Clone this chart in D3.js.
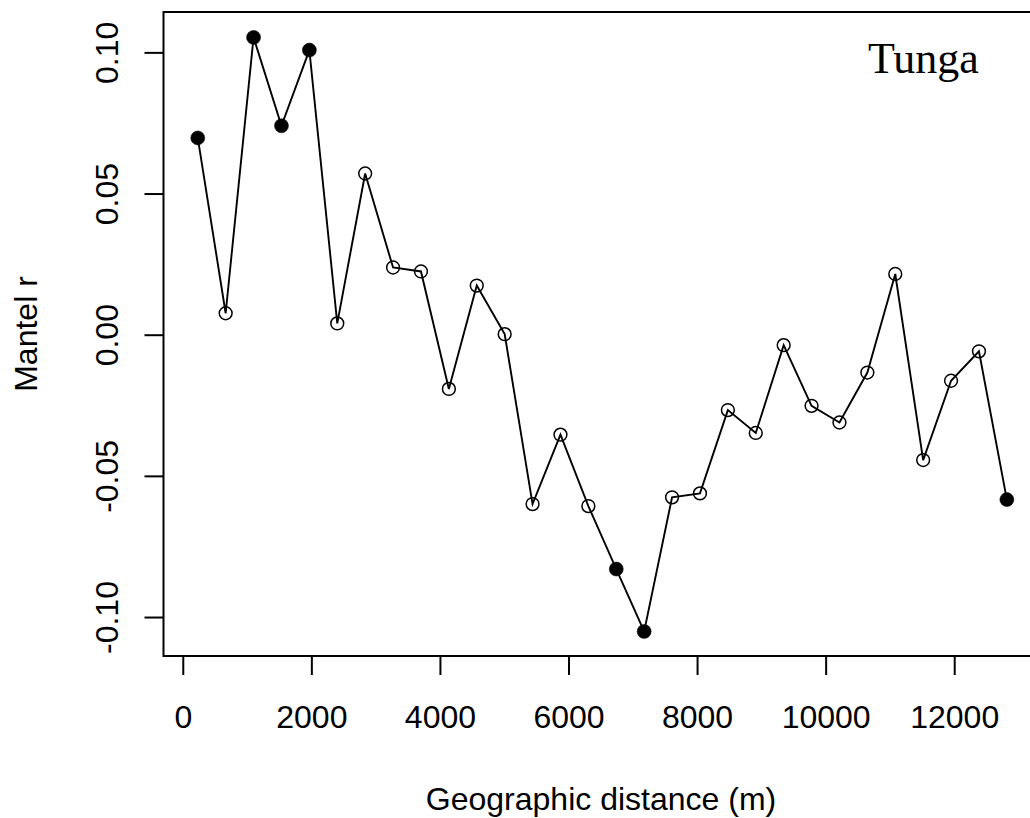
<!DOCTYPE html>
<html>
<head>
<meta charset="utf-8">
<script src="https://cdn.jsdelivr.net/npm/d3@7"></script>
<style>
  body { margin: 0; background: #fff; }
  svg { display: block; }
  text { font-family: "Liberation Sans", Arial, sans-serif; fill: #000; }
</style>
</head>
<body>
<svg id="chart"></svg>
<script>
// distance class centres (m) and Mantel r values
const distances = [233, 667, 1101, 1535, 1969, 2403, 2837, 3271, 3705, 4139,
                   4573, 5007, 5441, 5875, 6309, 6743, 7177, 7611, 8045, 8479,
                   8913, 9347, 9781, 10215, 10649, 11083, 11517, 11951, 12385, 12819];
const mantelR = [0.0697, 0.0076, 0.1053, 0.0740, 0.1008, 0.0040, 0.0571, 0.0238, 0.0224, -0.0192,
                 0.0174, 0.0002, -0.0600, -0.0354, -0.0607, -0.0830, -0.1051, -0.0576, -0.0562, -0.0267,
                 -0.0348, -0.0037, -0.0252, -0.0311, -0.0134, 0.0215, -0.0444, -0.0163, -0.0059, -0.0584];
// significant classes are drawn filled
const significant = [1, 0, 1, 1, 1, 0, 0, 0, 0, 0,
                     0, 0, 0, 0, 0, 1, 1, 0, 0, 0,
                     0, 0, 0, 0, 0, 0, 0, 0, 0, 1];
const xTicks = [0, 2000, 4000, 6000, 8000, 10000, 12000];
const yTicks = [-0.10, -0.05, 0, 0.05, 0.10];
const yTickLabels = ["-0.10", "-0.05", "0.00", "0.05", "0.10"];

const width = 1030;
const height = 818;
const plotLeft = 163.5, plotRight = 1041, plotTop = 12, plotBottom = 656;

const svg = d3.select('#chart')
    .attr('width', width)
    .attr('height', height);

const x = d3.scaleLinear().domain([-300, 13350]).range([plotLeft, plotRight]);
const y = d3.scaleLinear().domain([-0.1138, 0.1143]).range([plotBottom, plotTop]);

const points = distances.map((d, i) => ({ d: d, r: mantelR[i], sig: significant[i] }));

// axes
const xAxis = svg.append('g')
    .attr('transform', 'translate(0,' + plotBottom + ')')
    .call(d3.axisBottom(x).tickValues(xTicks).tickSize(19).tickFormat(d3.format('d')));
xAxis.select('.domain').remove();
xAxis.selectAll('line').attr('stroke', '#000').attr('stroke-width', 2);
xAxis.selectAll('text')
    .attr('y', 72).attr('dy', null)
    .style('font-size', '32px')
    .style('font-family', '"Liberation Sans", Arial, sans-serif')
    .attr('fill', '#000');

const yAxis = svg.append('g')
    .attr('transform', 'translate(' + plotLeft + ',0)')
    .call(d3.axisLeft(y).tickValues(yTicks).tickSize(19)
        .tickFormat((d, i) => yTickLabels[i]));
yAxis.select('.domain').remove();
yAxis.selectAll('line').attr('stroke', '#000').attr('stroke-width', 2);
yAxis.selectAll('text')
    .attr('x', null).attr('y', null).attr('dy', null)
    .attr('text-anchor', 'middle')
    .attr('transform', 'translate(' + (118 - plotLeft) + ',0) rotate(-90)')
    .style('font-size', '32px')
    .style('font-family', '"Liberation Sans", Arial, sans-serif')
    .attr('fill', '#000');

// plot box
svg.append('rect')
    .attr('x', plotLeft).attr('y', plotTop)
    .attr('width', plotRight - plotLeft).attr('height', plotBottom - plotTop)
    .attr('fill', 'none')
    .attr('stroke', '#000')
    .attr('stroke-width', 2);

// correlogram line
const line = d3.line().x(p => x(p.d)).y(p => y(p.r));
svg.append('path')
    .datum(points)
    .attr('d', line)
    .attr('fill', 'none')
    .attr('stroke', '#000')
    .attr('stroke-width', 1.9);

svg.selectAll('.pt')
    .data(points)
    .enter()
    .append('circle')
    .attr('class', 'pt')
    .attr('cx', p => x(p.d))
    .attr('cy', p => y(p.r))
    .attr('r', p => p.sig ? 7 : 6.4)
    .attr('fill', p => p.sig ? '#000' : 'none')
    .attr('stroke', '#000')
    .attr('stroke-width', p => p.sig ? 0.5 : 1.5);

// titles
svg.append('text')
    .attr('x', 601).attr('y', 810)
    .attr('text-anchor', 'middle')
    .style('font-size', '32px')
    .text('Geographic distance (m)');

svg.append('text')
    .attr('transform', 'translate(37,' + ((plotTop + plotBottom) / 2) + ') rotate(-90)')
    .attr('text-anchor', 'middle')
    .style('font-size', '32px')
    .text('Mantel r');

svg.append('text')
    .attr('x', 868).attr('y', 73)
    .style('font-family', '"Liberation Serif", "Times New Roman", serif')
    .style('font-size', '44px')
    .text('Tunga');
</script>
</body>
</html>
